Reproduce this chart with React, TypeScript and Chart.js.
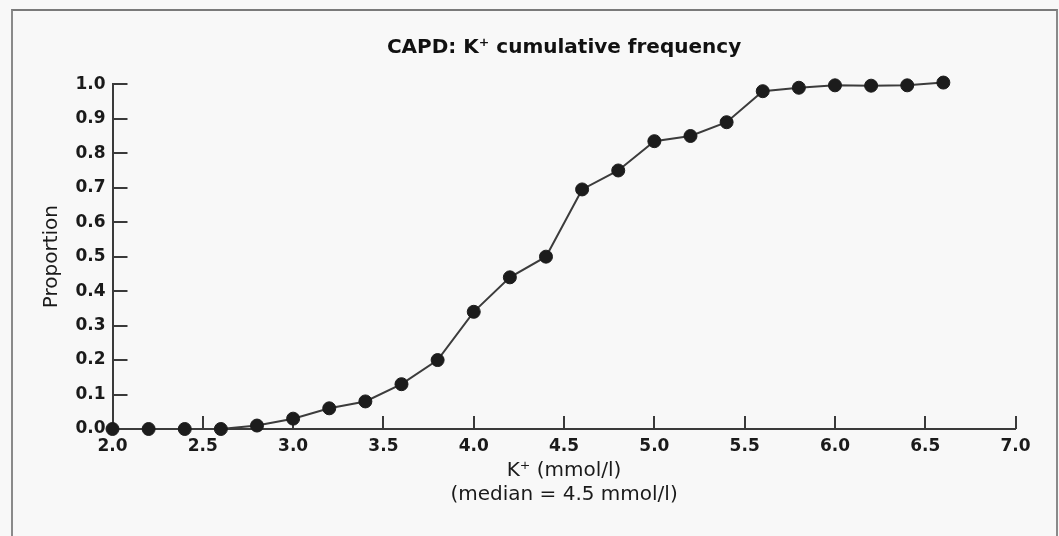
import React, { useEffect, useRef } from 'react';
import { Chart, registerables } from 'chart.js';

Chart.register(...registerables);

// ---- Data ----
const K_VALUES = [2.0, 2.2, 2.4, 2.6, 2.8, 3.0, 3.2, 3.4, 3.6, 3.8, 4.0, 4.2, 4.4, 4.6, 4.8, 5.0, 5.2, 5.4, 5.6, 5.8, 6.0, 6.2, 6.4, 6.6];
const PROPORTION = [0, 0, 0, 0, 0.01, 0.03, 0.06, 0.08, 0.13, 0.2, 0.34, 0.44, 0.5, 0.695, 0.75, 0.835, 0.85, 0.89, 0.98, 0.99, 0.997, 0.996, 0.997, 1.005];
const X_TICKS = [2.0, 2.5, 3.0, 3.5, 4.0, 4.5, 5.0, 5.5, 6.0, 6.5, 7.0];
const Y_TICKS = [0.0, 0.1, 0.2, 0.3, 0.4, 0.5, 0.6, 0.7, 0.8, 0.9, 1.0];
const TITLE = 'CAPD: K\u207A cumulative frequency';
const X_TITLE = ['K\u207A (mmol/l)', '(median = 4.5 mmol/l)'];
const Y_TITLE = 'Proportion';

const AXIS_COLOR = '#3a3a3a';
const TEXT_COLOR = '#1a1a1a';
const FONT = "'DejaVu Sans', 'Liberation Sans', sans-serif";

const inwardTicks = {
  id: 'inwardTicks',
  beforeDatasetsDraw(chart: any) {
    const { ctx, scales } = chart;
    const x = scales.x;
    const y = scales.y;
    ctx.save();
    ctx.strokeStyle = AXIS_COLOR;
    ctx.lineWidth = 2;
    ctx.beginPath();
    Y_TICKS.forEach((v, i) => {
      if (i === 0) return;
      const py = Math.round(y.getPixelForValue(v));
      ctx.moveTo(x.left, py);
      ctx.lineTo(x.left + 15, py);
    });
    X_TICKS.forEach((v, i) => {
      if (i === 0) return;
      const px = Math.round(x.getPixelForValue(v));
      ctx.moveTo(px, y.bottom);
      ctx.lineTo(px, y.bottom - 13);
    });
    ctx.stroke();
    ctx.restore();
  },
};

export default function App() {
  const canvasRef = useRef<HTMLCanvasElement | null>(null);

  useEffect(() => {
    document.body.style.margin = '0';
    const canvas = canvasRef.current;
    if (!canvas) return;
    const chart = new Chart(canvas, {
      type: 'scatter',
      data: {
        datasets: [
          {
            data: K_VALUES.map((k, i) => ({ x: k, y: PROPORTION[i] })),
            showLine: true,
            borderColor: '#3c3c3c',
            borderWidth: 2,
            pointRadius: 6.5,
            pointHoverRadius: 6.5,
            pointBackgroundColor: '#1c1c1c',
            pointBorderColor: '#1c1c1c',
            pointBorderWidth: 1,
            clip: false as any,
          },
        ],
      },
      options: {
        animation: false,
        responsive: false,
        devicePixelRatio: 1,
        layout: { padding: { left: 20, top: 10, right: 43.4, bottom: 21 } },
        plugins: {
          legend: { display: false },
          tooltip: { enabled: false },
          title: {
            display: true,
            text: TITLE,
            fullSize: false,
            color: '#111',
            font: { family: FONT, size: 20, weight: 'bold' },
            padding: { top: 26, bottom: 24.3 },
          },
        },
        scales: {
          x: {
            type: 'linear',
            min: 2,
            max: 7,
            afterBuildTicks: (scale: any) => {
              scale.ticks = X_TICKS.map((v) => ({ value: v }));
            },
            afterFit: (scale: any) => {
              scale.height = 86;
            },
            grid: { display: true, drawOnChartArea: false, drawTicks: false, tickLength: 0 },
            border: { display: true, color: AXIS_COLOR, width: 2 },
            ticks: {
              autoSkip: false,
              maxRotation: 0,
              padding: 7,
              color: TEXT_COLOR,
              font: { family: FONT, size: 17, weight: 'bold' },
              callback: (v: any) => Number(v).toFixed(1),
            },
            title: {
              display: true,
              text: X_TITLE,
              color: TEXT_COLOR,
              font: { family: FONT, size: 20, weight: 'normal', lineHeight: 1.2 },
              padding: { top: 0, bottom: 8 },
            },
          },
          y: {
            type: 'linear',
            min: 0,
            max: 1,
            afterBuildTicks: (scale: any) => {
              scale.ticks = Y_TICKS.map((v) => ({ value: v }));
            },
            afterFit: (scale: any) => {
              scale.width = 92.5;
            },
            grid: { display: true, drawOnChartArea: false, drawTicks: false, tickLength: 0 },
            border: { display: true, color: AXIS_COLOR, width: 2 },
            ticks: {
              autoSkip: false,
              padding: 7,
              color: TEXT_COLOR,
              font: { family: FONT, size: 17, weight: 'bold' },
              callback: (v: any) => Number(v).toFixed(1),
            },
            title: {
              display: true,
              text: Y_TITLE,
              color: TEXT_COLOR,
              font: { family: FONT, size: 20, weight: 'normal', lineHeight: 1.2 },
              padding: { top: 20, bottom: 0 },
            },
          },
        },
      },
      plugins: [inwardTicks],
    });
    return () => chart.destroy();
  }, []);

  return (
    <div style={{ position: 'relative', width: 1059, height: 536, overflow: 'hidden', background: '#f8f8f8' }}>
      <div
        style={{
          position: 'absolute',
          left: 11,
          top: 9,
          width: 1043,
          height: 600,
          borderTop: '2px solid #7a7a7a',
          borderLeft: '2px solid #8a8a8a',
          borderRight: '2px solid #8a8a8a',
          pointerEvents: 'none',
        }}
      />
      <canvas ref={canvasRef} width={1059} height={536} style={{ position: 'absolute', left: 0, top: 0, width: 1059, height: 536 }} />
    </div>
  );
}
